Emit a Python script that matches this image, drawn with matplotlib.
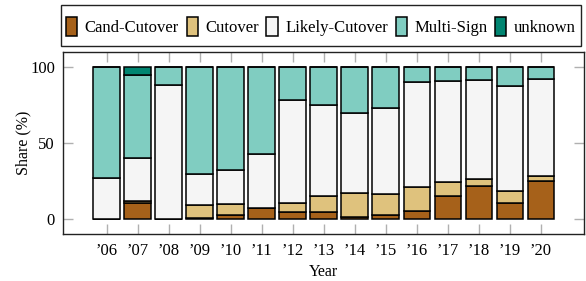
import numpy as np
import matplotlib
matplotlib.use("Agg")
import matplotlib.pyplot as plt
from matplotlib.patches import Rectangle

plt.rcParams['font.family'] = ['Liberation Serif', 'DejaVu Serif']

# Share (%) per year and category
years = ["’06", "’07", "’08", "’09", "’10", "’11", "’12", "’13",
         "’14", "’15", "’16", "’17", "’18", "’19", "’20"]
cand_cutover = [0, 10.9, 0, 0.7, 2.4, 7.2, 5.0, 4.5, 1.7, 2.8, 5.5, 15.3, 22.1, 10.7, 24.9]
cutover = [0, 0.7, 0, 8.3, 7.4, 0, 5.5, 11.0, 15.3, 13.6, 15.9, 9.4, 4.1, 8.1, 3.3]
likely_cutover = [27.1, 28.6, 88.5, 20.9, 22.7, 35.6, 68.1, 59.4, 53.1, 56.8, 69.0, 66.4, 65.5, 68.6, 64.2]
multi_sign = [72.9, 54.4, 11.5, 70.1, 67.5, 57.2, 21.4, 25.1, 29.9, 26.8, 9.6, 8.9, 8.3, 12.6, 7.6]
unknown = [0, 5.4, 0, 0, 0, 0, 0, 0, 0, 0, 0, 0, 0, 0, 0]

series = [
    ("Cand-Cutover", cand_cutover, "#a6611a"),
    ("Cutover", cutover, "#dfc27d"),
    ("Likely-Cutover", likely_cutover, "#f5f5f5"),
    ("Multi-Sign", multi_sign, "#80cdc1"),
    ("unknown", unknown, "#018571"),
]

W, H = 586, 281
fig = plt.figure(figsize=(W / 100, H / 100), dpi=100)
ax = fig.add_axes([63.3 / W, 1 - 234.3 / H, (584.3 - 63.3) / W, (234.3 - 52) / H])

x = np.arange(len(years))
bottom = np.zeros(len(years))
for name, vals, col in series:
    vals = np.array(vals)
    ax.bar(x, vals, width=0.86, bottom=bottom, color=col,
           edgecolor='black', linewidth=1.1, label=name)
    bottom += vals

ax.set_xlim(-1.4, len(years) - 1 + 1.4)
ax.set_ylim(-10, 110)
ax.set_xticks(x)
ax.set_xticklabels(years)
ax.set_yticks([0, 50, 100])
ax.tick_params(direction='in', length=7, width=1, color='#b0b0b0',
               top=True, right=True, labelsize=12, pad=6)
for s in ax.spines.values():
    s.set_linewidth(1.0)
    s.set_color('#222222')
ax.set_xlabel("Year", fontsize=11.5, labelpad=4)
ax.set_ylabel("Share (%)", fontsize=11.5)
ax.yaxis.set_label_coords(-0.062, 0.5)

# legend box above the axes
box = (60.7 / W, 1 - 45.7 / H, (581 - 60.7) / W, 40.7 / H)
fig.patches.append(Rectangle(box[:2], box[2], box[3], transform=fig.transFigure,
                             facecolor='white', edgecolor='#222222', linewidth=1.0))
fig.legend(loc='center', ncol=5, fontsize=12,
           bbox_to_anchor=(box[0], box[1] - 0.005, box[2], box[3]), frameon=False,
           handlelength=0.68, handleheight=1.3,
           handletextpad=0.45, columnspacing=0.45, borderaxespad=0)

fig.savefig("out.png", dpi=100)
